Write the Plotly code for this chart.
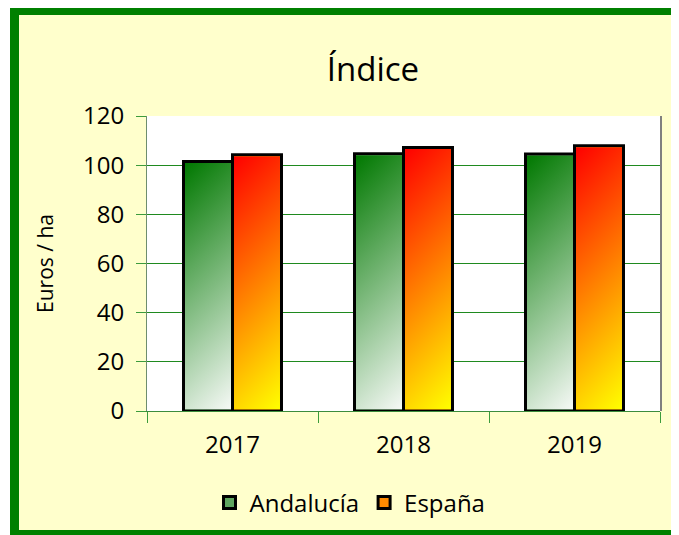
import base64
import plotly.graph_objects as go

# ---- data ----
years = ["2017", "2018", "2019"]
andalucia = [101.5, 104.6, 104.5]
espana = [104.2, 107.2, 107.9]
series_names = ["Andalucía", "España"]
y_ticks = [0, 20, 40, 60, 80, 100, 120]

# ---- layout constants (figure pixels; page has an 8px body margin) ----
OFF = 8
W, H = 679, 535
L, R, T, B = 147 - OFF, 660 - OFF, 116 - OFF, 411 - OFF
BARGAP = 0.427
FONT = "Open Sans"
GREEN = "#008000"

px_per_cat = (R - L) / len(years)
px_per_unit = (B - T) / (y_ticks[-1] - y_ticks[0])


def grad_svg(c0, c1, w=46, h=250):
    e = (w + h) / 2
    svg = (
        f'<svg xmlns="http://www.w3.org/2000/svg" width="{w}" height="{h}" '
        f'viewBox="0 0 {w} {h}" preserveAspectRatio="none">'
        f'<defs><linearGradient id="g" gradientUnits="userSpaceOnUse" x1="0" y1="0" x2="{e}" y2="{e}">'
        f'<stop offset="0" stop-color="{c0}"/><stop offset="1" stop-color="{c1}"/>'
        f'</linearGradient></defs><rect x="0" y="0" width="{w}" height="{h}" fill="url(#g)"/></svg>'
    )
    return "data:image/svg+xml;base64," + base64.b64encode(svg.encode()).decode()


green_src = grad_svg("#007800", "#F6F9F6")
red_src = grad_svg("#FF0000", "#FFFF00")

fig = go.Figure()
fig.add_trace(go.Bar(x=years, y=andalucia, name=series_names[0],
                     marker=dict(color="#5FA65F", line=dict(color="black", width=3))))
fig.add_trace(go.Bar(x=years, y=espana, name=series_names[1],
                     marker=dict(color="#FF8A00", line=dict(color="black", width=3))))

# gradient fills placed through the data axes
bw = (1 - BARGAP) / 2
dx = 1.5 / px_per_cat
dy = 1.5 / px_per_unit
images = []
for k, (vals, src) in enumerate([(andalucia, green_src), (espana, red_src)]):
    for i, v in enumerate(vals):
        x0 = i - bw + k * bw
        images.append(dict(source=src, xref="x", yref="y", x=x0 + dx, y=v - dy,
                           sizex=bw - 2 * dx, sizey=v - 2 * dy, xanchor="left", yanchor="top",
                           sizing="stretch", layer="above"))


def xp(px):
    return (px - L) / (R - L)


def yp(py):
    return (B - py) / (B - T)


shapes = [
    # white strip left of frame
    dict(type="rect", xref="paper", yref="paper", x0=xp(-5), x1=xp(10 - OFF), y0=yp(H + 5), y1=yp(-5),
         fillcolor="white", line=dict(width=0), layer="below"),
    # green frame
    dict(type="rect", xref="paper", yref="paper", x0=xp(14.5 - OFF), x1=xp(W + 10),
         y0=yp(534.5 - OFF), y1=yp(10.5 - OFF),
         fillcolor="rgba(0,0,0,0)", line=dict(color=GREEN, width=9), layer="below"),
    # gray right border of plot area
    dict(type="line", xref="paper", yref="paper", x0=xp(R + 1), x1=xp(R + 1), y0=0, y1=1,
         line=dict(color="#808080", width=2), layer="above"),
]

fig.update_layout(
    width=W, height=H,
    margin=dict(l=L, r=W - R, t=T, b=H - B, pad=0),
    paper_bgcolor="#FFFFCC",
    plot_bgcolor="white",
    barmode="group", bargap=BARGAP, bargroupgap=0,
    title=dict(text="Índice", x=(373 - OFF) / W, xanchor="center", xref="container",
               y=1 - (69 - OFF) / H, yanchor="middle", yref="container",
               font=dict(family=FONT, size=33, color="black")),
    font=dict(family=FONT, color="black"),
    showlegend=True,
    legend=dict(orientation="h", xref="container", yref="container", x=(350 - OFF) / W, xanchor="center",
                y=1 - (503 - OFF) / H, yanchor="middle", font=dict(family=FONT, size=24, color="black"),
                bgcolor="rgba(0,0,0,0)", itemwidth=30, traceorder="normal"),
    images=images,
    shapes=shapes,
)

fig.update_xaxes(type="category", range=[-0.5, len(years) - 0.5], showgrid=False,
                 showline=True, linecolor="#3C8C3C", linewidth=1,
                 ticks="outside", tickson="boundaries", ticklen=11, tickcolor="#3C9C3C",
                 tickfont=dict(family=FONT, size=24, color="black"), ticklabelstandoff=12)
fig.update_yaxes(range=[y_ticks[0], y_ticks[-1]], tickvals=y_ticks, showgrid=True,
                 gridcolor="#1F8A1F", gridwidth=1, zeroline=False,
                 showline=True, linecolor="#6E8E6E", linewidth=1,
                 ticks="outside", ticklen=10, tickcolor="#3C9C3C",
                 tickfont=dict(family=FONT, size=24, color="black"), ticklabelstandoff=7,
                 title=dict(text="Euros / ha", font=dict(family=FONT, size=21, color="black"), standoff=23))

fig.write_html("out.html")
